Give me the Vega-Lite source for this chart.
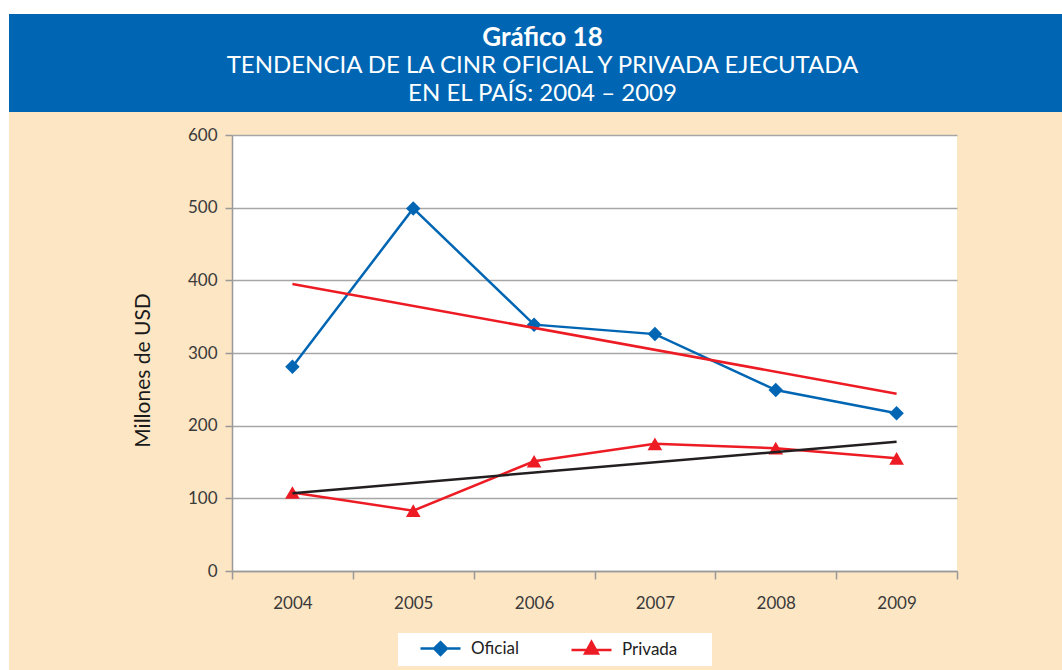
{
  "$schema": "https://vega.github.io/schema/vega-lite/v6.json",
  "background": "#FDE6C4",
  "padding": 0,
  "config": {"font": "Lato", "view": {"stroke": null}},
  "datasets": {
    "datos": [
      {"anio": "2004", "serie": "Oficial", "valor": 281},
      {"anio": "2005", "serie": "Oficial", "valor": 499},
      {"anio": "2006", "serie": "Oficial", "valor": 339},
      {"anio": "2007", "serie": "Oficial", "valor": 326},
      {"anio": "2008", "serie": "Oficial", "valor": 249},
      {"anio": "2009", "serie": "Oficial", "valor": 217},
      {"anio": "2004", "serie": "Privada", "valor": 108},
      {"anio": "2005", "serie": "Privada", "valor": 83},
      {"anio": "2006", "serie": "Privada", "valor": 151},
      {"anio": "2007", "serie": "Privada", "valor": 175},
      {"anio": "2008", "serie": "Privada", "valor": 169},
      {"anio": "2009", "serie": "Privada", "valor": 155}
    ],
    "tendencias": [
      {"anio": "2004", "serie": "Tendencia Oficial", "valor": 395},
      {"anio": "2009", "serie": "Tendencia Oficial", "valor": 244},
      {"anio": "2004", "serie": "Tendencia Privada", "valor": 107},
      {"anio": "2009", "serie": "Tendencia Privada", "valor": 178}
    ],
    "titulo": [
      {"fila": 1, "texto": "Gráfico 18"},
      {"fila": 2, "texto": "TENDENCIA DE LA CINR OFICIAL Y PRIVADA EJECUTADA"},
      {"fila": 3, "texto": "EN EL PAÍS: 2004 – 2009"}
    ]
  },
  "spacing": 0,
  "hconcat": [
    {
      "width": 9, "height": 670,
      "view": {"fill": "#FFFFFF", "stroke": null},
      "data": {"values": []},
      "mark": "point",
      "encoding": {}
    },
    {
      "spacing": 14,
      "vconcat": [
        {
          "spacing": 0,
          "vconcat": [
            {
              "width": 1053, "height": 14,
              "view": {"fill": "#FFFFFF", "stroke": null},
              "data": {"values": []},
              "mark": "point",
              "encoding": {}
            },
            {
              "width": 1053, "height": 98,
              "view": {"fill": "#0066B3", "stroke": null},
              "data": {"name": "titulo"},
              "encoding": {
                "y": {"field": "fila", "type": "ordinal", "scale": {"range": [24, 80], "padding": 0}, "axis": null},
                "text": {"field": "texto"}
              },
              "layer": [
                {
                  "transform": [{"filter": "datum.fila === 1"}],
                  "mark": {"type": "text", "fontWeight": "bold", "fontSize": 26, "color": "#FFFFFF", "baseline": "middle", "dx": 7}
                },
                {
                  "transform": [{"filter": "datum.fila > 1"}],
                  "mark": {"type": "text", "fontSize": 24, "color": "#FFFFFF", "baseline": "middle", "dx": 7}
                }
              ]
            }
          ]
        },
        {
          "spacing": 0,
          "hconcat": [
            {
              "width": 123, "height": 10,
              "data": {"values": []},
              "mark": "point",
              "encoding": {}
            },
            {
              "width": 725, "height": 436,
              "view": {"fill": "#FFFFFF", "stroke": null},
              "encoding": {
                "x": {
                  "field": "anio", "type": "ordinal", "bandPosition": 0.5,
                  "scale": {"type": "band", "paddingInner": 0, "paddingOuter": 0},
                  "axis": {
                    "title": null, "labelAngle": 0, "labelFontSize": 17, "labelColor": "#3A3A3A",
                    "labelPadding": 16, "tickSize": 8, "tickBand": "extent", "tickColor": "#999999",
                    "tickWidth": 1.5, "domainColor": "#999999", "domainWidth": 1.5, "grid": false
                  }
                },
                "y": {
                  "field": "valor", "type": "quantitative",
                  "scale": {"domain": [0, 600], "nice": false},
                  "axis": {
                    "title": "Millones de USD", "titleFontSize": 21, "titleFontWeight": "normal",
                    "titleColor": "#1A1A1A", "titlePadding": 34, "titleY": 235,
                    "labelFontSize": 17, "labelColor": "#3A3A3A",
                    "labelPadding": 8, "tickSize": 7, "tickColor": "#999999", "tickWidth": 1.5,
                    "domainColor": "#999999", "domainWidth": 1.5, "gridColor": "#A6A6A6", "gridWidth": 1.5,
                    "values": [0, 100, 200, 300, 400, 500, 600]
                  }
                }
              },
              "layer": [
                {
                  "data": {"name": "datos"},
                  "mark": {"type": "line", "strokeWidth": 2.5},
                  "encoding": {
                    "color": {
                      "field": "serie", "type": "nominal",
                      "scale": {"domain": ["Oficial", "Privada"], "range": ["#0066B3", "#ED1C24"]},
                      "legend": {
                        "orient": "none", "legendX": 398, "legendY": 633, "direction": "horizontal",
                        "title": null, "fillColor": "#FFFFFF", "padding": 6,
                        "labelFontSize": 17, "labelColor": "#222222",
                        "symbolSize": 256, "symbolStrokeWidth": 2.5, "symbolOpacity": 1,
                        "symbolType": "M0,0H5M2.5,-0.8L3.3,0L2.5,0.8L1.7,0Z",
                        "symbolOffset": 7, "labelOffset": 41, "columnPadding": 36,
                        "encode": {
                          "symbols": {
                            "update": {
                              "shape": {"signal": "datum.value === 'Oficial' ? 'M0,0H5M2.5,-0.8L3.3,0L2.5,0.8L1.7,0Z' : 'M0,0H5M2.5,-1L3.3,0.45L1.7,0.45ZM16.1,0'"},
                              "fill": {"signal": "datum.value === 'Oficial' ? '#0066B3' : '#ED1C24'"},
                              "stroke": {"signal": "datum.value === 'Oficial' ? '#0066B3' : '#ED1C24'"},
                              "strokeWidth": {"value": 2.5},
                              "opacity": {"value": 1}
                            }
                          }
                        }
                      }
                    }
                  }
                },
                {
                  "data": {"name": "datos"},
                  "transform": [{"filter": "datum.serie === 'Oficial'"}],
                  "mark": {"type": "point", "shape": "diamond", "filled": true, "opacity": 1, "size": 210},
                  "encoding": {"color": {"field": "serie", "type": "nominal"}}
                },
                {
                  "data": {"name": "datos"},
                  "transform": [{"filter": "datum.serie === 'Privada'"}],
                  "mark": {"type": "point", "shape": "triangle-up", "filled": true, "opacity": 1, "size": 215},
                  "encoding": {"color": {"field": "serie", "type": "nominal"}}
                },
                {
                  "data": {"name": "tendencias"},
                  "mark": {"type": "line", "strokeWidth": 2.5},
                  "encoding": {
                    "stroke": {
                      "field": "serie", "type": "nominal",
                      "scale": {"domain": ["Tendencia Oficial", "Tendencia Privada"], "range": ["#ED1C24", "#231F20"]},
                      "legend": null
                    }
                  }
                }
              ]
            }
          ]
        }
      ]
    }
  ]
}
